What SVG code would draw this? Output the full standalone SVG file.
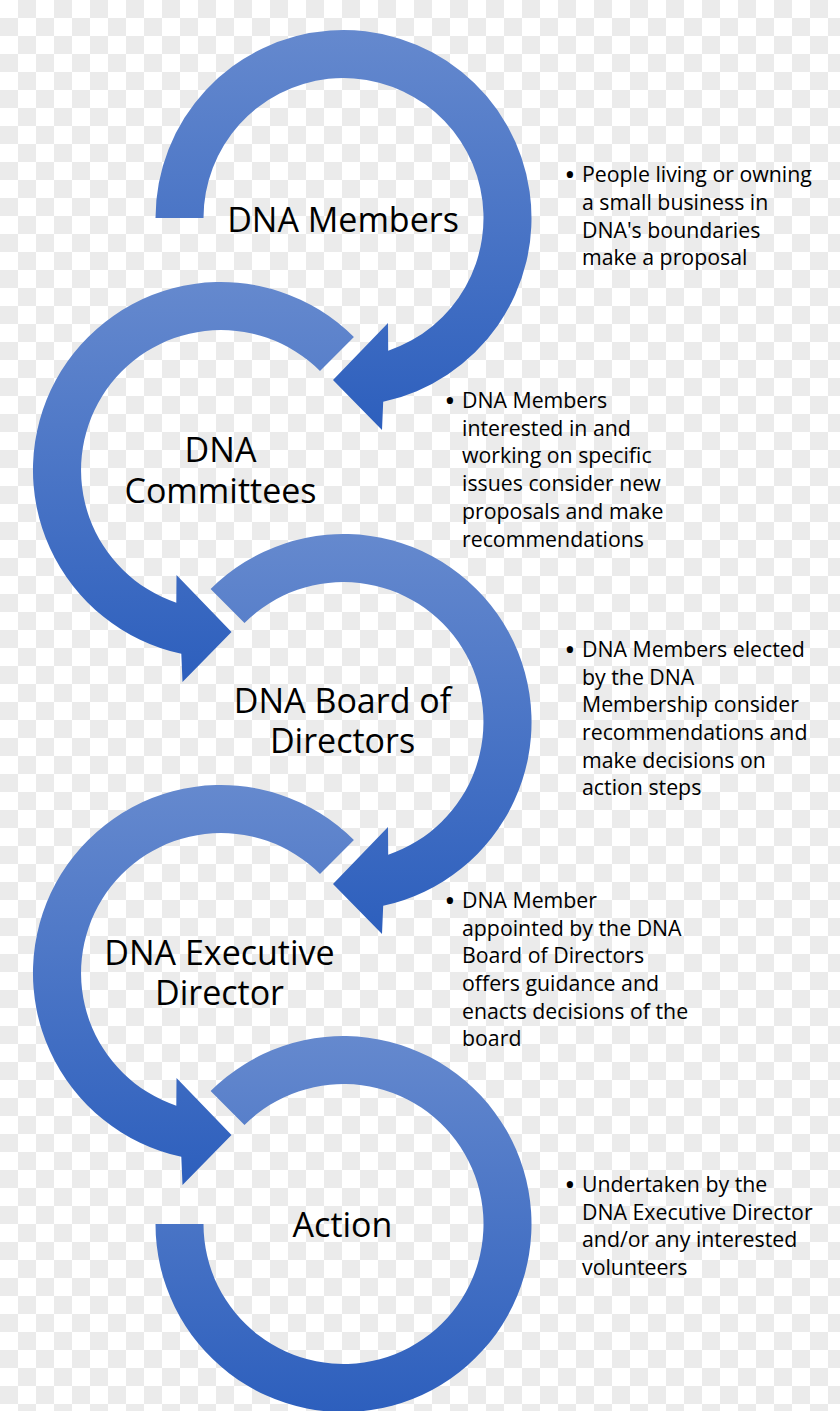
<svg xmlns="http://www.w3.org/2000/svg" width="840" height="1411" viewBox="0 0 840 1411">
<defs>
<pattern id="checker" patternUnits="userSpaceOnUse" width="36" height="36">
<rect width="36" height="36" fill="#ffffff"/>
<rect x="18" y="0" width="18" height="18" fill="#ebebeb"/>
<rect x="0" y="18" width="18" height="18" fill="#ebebeb"/>
</pattern>
<linearGradient id="ringGrad" x1="0" y1="0" x2="0" y2="1">
<stop offset="0" stop-color="#6589ce"/>
<stop offset="1" stop-color="#2d5fbd"/>
</linearGradient>
</defs>
<style>
.ring{fill:url(#ringGrad);}
.title{font-family:"Open Sans","Noto Sans",sans-serif;font-size:34px;fill:#000;text-anchor:middle;}
.note{font-family:"Open Sans","Noto Sans",sans-serif;font-size:21.3px;fill:#000;}
.dot{font-family:"Open Sans","Noto Sans",sans-serif;font-size:30px;fill:#000;text-anchor:middle;}
</style>
<rect width="840" height="1411" fill="url(#checker)"/>
<g id="connectors">
<path id="arrow-members" class="ring" d="M 155.5,218 A188,188 0 1 1 383.2,401.8 L 382,430 L 333,380 L 388,323 L 388.2,350.7 A140,140 0 1 0 203.5,218 Z"/>
<path id="arrow-committees" class="ring" d="M 353.9,337.1 A188,188 0 1 0 181.3,653.8 L 182.5,682 L 231.5,632 L 176.5,575 L 176.3,602.7 A140,140 0 1 1 320,371 Z"/>
<path id="arrow-board" class="ring" d="M 210.6,589.1 A188,188 0 1 1 383.2,905.8 L 382,934 L 333,884 L 388,827 L 388.2,854.7 A140,140 0 1 0 244.5,623 Z"/>
<path id="arrow-executive" class="ring" d="M 353.9,840.1 A188,188 0 1 0 181.3,1156.8 L 182.5,1185 L 231.5,1135 L 176.5,1078 L 176.3,1105.7 A140,140 0 1 1 320,874 Z"/>
<path id="arrow-action" class="ring" d="M 210.6,1091.1 A188,188 0 1 1 155.5,1224 L 203.5,1224 A140,140 0 1 0 244.5,1125 Z"/>
</g>
<g id="node-members">
<text class="title" x="343" y="232">DNA Members</text>
</g>
<g id="node-committees">
<text class="title" x="220.5" y="462">DNA<tspan x="220.5" dy="41">Committees</tspan></text>
</g>
<g id="node-board">
<text class="title" x="342.5" y="713">DNA Board of<tspan x="342.5" dy="40">Directors</tspan></text>
</g>
<g id="node-executive">
<text class="title" x="219.5" y="965">DNA Executive<tspan x="219.5" dy="40">Director</tspan></text>
</g>
<g id="node-action">
<text class="title" x="342.5" y="1237">Action</text>
</g>
<g id="note-members">
<text class="dot" x="570" y="185">•</text>
<text class="note" x="582" y="182">People living or owning</text>
<text class="note" x="582" y="210">a small business in</text>
<text class="note" x="582" y="238">DNA's boundaries</text>
<text class="note" x="582" y="265">make a proposal</text>
</g>
<g id="note-committees">
<text class="dot" x="450" y="411">•</text>
<text class="note" x="462" y="408">DNA Members</text>
<text class="note" x="462" y="436">interested in and</text>
<text class="note" x="462" y="463">working on specific</text>
<text class="note" x="462" y="491">issues consider new</text>
<text class="note" x="462" y="519">proposals and make</text>
<text class="note" x="462" y="547">recommendations</text>
</g>
<g id="note-board">
<text class="dot" x="570" y="660">•</text>
<text class="note" x="582" y="657">DNA Members elected</text>
<text class="note" x="582" y="685">by the DNA</text>
<text class="note" x="582" y="712">Membership consider</text>
<text class="note" x="582" y="740">recommendations and</text>
<text class="note" x="582" y="768">make decisions on</text>
<text class="note" x="582" y="795">action steps</text>
</g>
<g id="note-executive">
<text class="dot" x="450" y="911">•</text>
<text class="note" x="462" y="908">DNA Member</text>
<text class="note" x="462" y="936">appointed by the DNA</text>
<text class="note" x="462" y="963">Board of Directors</text>
<text class="note" x="462" y="991">offers guidance and</text>
<text class="note" x="462" y="1019">enacts decisions of the</text>
<text class="note" x="462" y="1046">board</text>
</g>
<g id="note-action">
<text class="dot" x="570" y="1195">•</text>
<text class="note" x="582" y="1192">Undertaken by the</text>
<text class="note" x="582" y="1220">DNA Executive Director</text>
<text class="note" x="582" y="1247">and/or any interested</text>
<text class="note" x="582" y="1275">volunteers</text>
</g>
</svg>
